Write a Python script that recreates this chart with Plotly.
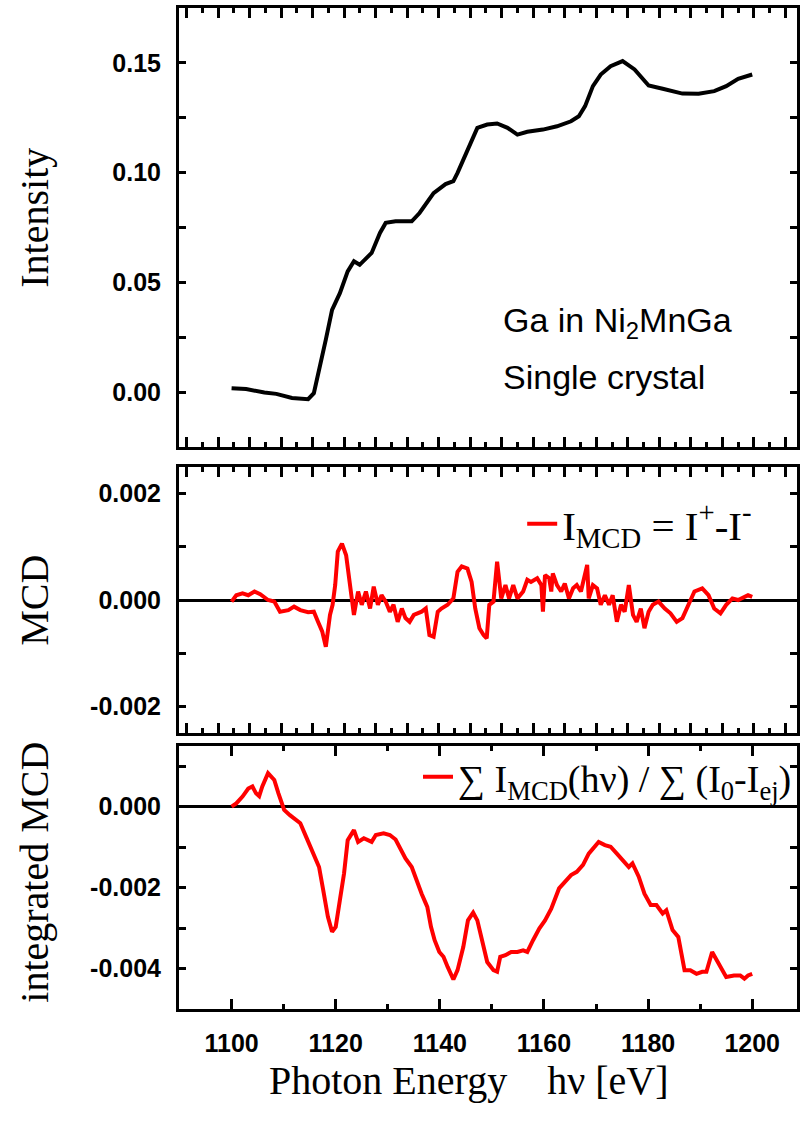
import plotly.graph_objects as go

# ---------------- data ----------------
int_e = [1100.0, 1102.8, 1106.3, 1108.6, 1111.6, 1114.7, 1115.8, 1117.0, 1118.1, 1119.3,
         1120.8, 1122.3, 1123.5, 1124.6, 1126.9, 1128.5, 1129.6, 1131.5, 1134.6, 1136.1,
         1138.8, 1141.1, 1142.6, 1143.4, 1145.3, 1147.2, 1149.1, 1151.0, 1153.0, 1154.9,
         1156.8, 1159.8, 1162.5, 1165.2, 1166.7, 1167.9, 1169.4, 1170.9, 1172.8, 1175.1,
         1177.4, 1179.0, 1180.1, 1182.8, 1186.6, 1189.7, 1192.7, 1195.0, 1197.3, 1200.0]
int_v = [0.0018, 0.0014, -0.0002, -0.0008, -0.0027, -0.0032, -0.0005, 0.0117, 0.0239, 0.0375,
         0.0451, 0.0550, 0.0596, 0.0580, 0.0634, 0.0725, 0.0771, 0.0778, 0.0778, 0.0816,
         0.0907, 0.0948, 0.0961, 0.0999, 0.1105, 0.1204, 0.1219, 0.1224, 0.1204, 0.1173,
         0.1186, 0.1196, 0.1211, 0.1234, 0.1257, 0.1303, 0.1394, 0.1447, 0.1485, 0.1508,
         0.1470, 0.1424, 0.1397, 0.1382, 0.1360, 0.1359, 0.1371, 0.1394, 0.1427, 0.1447]

mcd_e = [1100.0, 1100.9, 1102.1, 1103.2, 1104.4, 1105.5, 1107.0, 1108.2, 1109.3, 1110.9,
         1112.0, 1113.2, 1114.7, 1115.8, 1116.6, 1117.4, 1118.1, 1118.9, 1119.4, 1119.9,
         1120.4, 1121.2, 1122.0, 1122.7, 1123.5, 1124.3, 1125.0, 1125.8, 1126.6, 1127.3,
         1128.1, 1128.8, 1129.6, 1130.4, 1131.1, 1131.9, 1132.7, 1133.4, 1134.2, 1135.0,
         1135.7, 1136.5, 1137.3, 1138.0, 1138.8, 1139.6, 1140.3, 1141.5, 1142.6, 1143.4,
         1144.2, 1145.3, 1146.1, 1146.8, 1147.6, 1148.4, 1149.0, 1149.5, 1150.3, 1151.0,
         1151.8, 1152.6, 1153.3, 1154.1, 1154.9, 1156.0, 1156.8, 1157.5, 1158.7, 1159.5,
         1159.8, 1160.2, 1161.0, 1161.4, 1161.7, 1162.5, 1163.3, 1164.0, 1164.8, 1165.6,
         1166.3, 1167.1, 1168.3, 1168.6, 1169.4, 1170.2, 1170.9, 1171.7, 1172.5, 1173.2,
         1174.0, 1174.8, 1175.5, 1176.3, 1177.1, 1177.8, 1178.6, 1179.3, 1180.1, 1180.9,
         1182.0, 1183.2, 1184.3, 1185.5, 1186.6, 1187.8, 1188.9, 1190.4, 1191.6, 1192.7,
         1193.9, 1195.0, 1196.2, 1197.3, 1198.5, 1199.2, 1200.0]
mcd_v = [-0.00003, 0.00009, 0.000125, 0.00009, 0.00016, 0.00011, 0.0, -0.00003, -0.00022, -0.00019,
         -0.000125, -0.00019, -0.00023, -0.00022, -0.00041, -0.00059, -0.00088, -0.00028, -0.00009, 0.00028,
         0.00091, 0.00106, 0.00084, 0.00028, -0.00028, 0.00016, -0.00009, 0.00016, -0.00016, 0.00025,
         -0.00009, 0.00009, -0.00003, -0.00022, -0.00009, -0.00041, -0.00016, -0.00034, -0.00041, -0.00028,
         -0.00025, -0.00022, -0.00016, -0.00066, -0.00069, -0.00022, -0.00016, -0.00009, 0.00003, 0.00053,
         0.00063, 0.00059, 0.00034, -0.00016, -0.00053, -0.00066, -0.00072, -0.00009, -0.00003, 0.00072,
         0.00003, 0.00028, 0.00003, 0.00028, 0.00003, 0.00016, 0.00038, 0.00034, 0.00041, 0.00028,
         -0.00022, 0.00047, 0.00041, 0.00016, 0.00050, 0.00028, 0.00016, 0.00031, 0.00003, 0.00022,
         0.00028, 0.00016, 0.00066, 0.00003, 0.00028, 0.00022, -0.00009, 0.00009, -0.00009, 0.00009,
         -0.00041, -0.00009, -0.00022, 0.00028, -0.00028, -0.00041, -0.00016, -0.00053, -0.00022, -0.00009,
         -0.00003, -0.00016, -0.00025, -0.00041, -0.00034, -0.00009, 0.00016, 0.00022, 0.00009, -0.00016,
         -0.00025, -0.00009, 0.00003, 0.0, 0.00006, 0.00009, 0.00006]

imcd_e = [1100.0, 1100.9, 1102.1, 1103.2, 1104.0, 1104.7, 1105.3, 1105.9, 1107.0, 1108.2,
          1109.0, 1110.1, 1111.2, 1113.2, 1114.3, 1115.5, 1116.8, 1117.6, 1118.5, 1119.3,
          1120.0, 1120.8, 1121.6, 1122.3, 1123.5, 1124.3, 1125.4, 1126.9, 1127.7, 1129.2,
          1130.4, 1131.5, 1132.3, 1133.4, 1134.6, 1135.5, 1136.5, 1137.3, 1137.6, 1138.3,
          1139.0, 1139.9, 1140.7, 1141.5, 1142.6, 1143.4, 1144.5, 1145.4, 1146.4, 1147.2,
          1148.0, 1149.1, 1150.3, 1151.0, 1151.6, 1152.6, 1153.7, 1154.9, 1156.0, 1156.8,
          1157.9, 1159.1, 1160.2, 1161.4, 1162.9, 1164.0, 1165.2, 1166.3, 1167.5, 1168.6,
          1169.8, 1170.5, 1171.7, 1172.8, 1174.0, 1175.1, 1176.3, 1177.0, 1178.2, 1179.3,
          1180.5, 1181.6, 1182.8, 1183.5, 1184.7, 1185.8, 1187.0, 1188.1, 1189.3, 1190.4,
          1191.2, 1192.3, 1193.5, 1195.0, 1196.5, 1197.7, 1198.5, 1199.2, 1200.0]
imcd_v = [0.0, 0.00008, 0.00025, 0.00045, 0.00050, 0.00033, 0.00026, 0.00050, 0.00083, 0.00066,
          0.00033, -0.00008, -0.00021, -0.00041, -0.00074, -0.00111, -0.00149, -0.00206, -0.00272, -0.00309,
          -0.00297, -0.00231, -0.00165, -0.00083, -0.00058, -0.00087, -0.00078, -0.00087, -0.00070, -0.00066,
          -0.00070, -0.00081, -0.00099, -0.00128, -0.00149, -0.00182, -0.00215, -0.00239, -0.00248, -0.00297,
          -0.00330, -0.00359, -0.00371, -0.00396, -0.00427, -0.00404, -0.00347, -0.00281, -0.00262, -0.00281,
          -0.00322, -0.00384, -0.00404, -0.00408, -0.00371, -0.00367, -0.00359, -0.00359, -0.00355, -0.00359,
          -0.00330, -0.00301, -0.00281, -0.00252, -0.00202, -0.00186, -0.00169, -0.00161, -0.00144, -0.00116,
          -0.00099, -0.00087, -0.00095, -0.00099, -0.00116, -0.00132, -0.00149, -0.00140, -0.00173, -0.00215,
          -0.00243, -0.00243, -0.00264, -0.00256, -0.00305, -0.00322, -0.00404, -0.00404, -0.00413, -0.00408,
          -0.00408, -0.00359, -0.00388, -0.00421, -0.00417, -0.00417, -0.00425, -0.00417, -0.00413]

x_tickvals = [1100, 1120, 1140, 1160, 1180, 1200]
x_ticktext = ["1100", "1120", "1140", "1160", "1180", "1200"]
y1_tickvals = [0.0, 0.05, 0.10, 0.15]
y1_ticktext = ["0.00", "0.05", "0.10", "0.15"]
y2_tickvals = [-0.002, 0.0, 0.002]
y2_ticktext = ["-0.002", "0.000", "0.002"]
y3_tickvals = [-0.004, -0.002, 0.0]
y3_ticktext = ["-0.004", "-0.002", "0.000"]

# ---------------- figure ----------------
W, H = 800, 1124
ML = 179
PW = W - ML
RED = "#ff0000"
serif = "Liberation Serif"
sans = "Liberation Sans"


def px_x(px):
    return (px - ML) / PW


def px_y(py):
    return 1 - py / H


fig = go.Figure()
fig.add_trace(go.Scatter(x=int_e, y=int_v, mode="lines", line=dict(color="black", width=4),
                         xaxis="x", yaxis="y", showlegend=False))
fig.add_trace(go.Scatter(x=mcd_e, y=mcd_v, mode="lines", line=dict(color=RED, width=4),
                         xaxis="x2", yaxis="y2", legend="legend",
                         name="I<sub>MCD</sub> = I<sup>+</sup>-I<sup>-</sup>"))
fig.add_trace(go.Scatter(x=imcd_e, y=imcd_v, mode="lines", line=dict(color=RED, width=4),
                         xaxis="x3", yaxis="y3", legend="legend2",
                         name="\u2211 I<sub>MCD</sub>(h\u03bd) / \u2211 (I<sub>0</sub>-I<sub>ej</sub>)"))

xr = [1089.9, 1208.6]
tickfont = dict(family=sans, size=25, color="black", weight="bold")
common_axis = dict(showline=True, linecolor="black", linewidth=3, mirror="ticks",
                   ticks="inside", tickcolor="black", tickwidth=3, showgrid=False)

top_x = dict(common_axis, range=xr, tickmode="linear", tick0=1091.34, dtick=6.055, ticklen=10,
             showticklabels=False,
             minor=dict(ticks="inside", tick0=1091.34, dtick=3.0275, ticklen=5,
                        tickwidth=3, tickcolor="black", showgrid=False))


def yax(domain, rng, tv, tt, minor_dtick, zero):
    return dict(common_axis, domain=domain, range=rng, tickmode="array", tickvals=tv, ticktext=tt,
                ticklen=7, tickfont=tickfont, ticklabelstandoff=10,
                zeroline=zero, zerolinecolor="black", zerolinewidth=3,
                minor=dict(ticks="inside", dtick=minor_dtick, tick0=0, ticklen=7, tickwidth=3,
                           tickcolor="black", showgrid=False))


d_top = [px_y(447), px_y(8)]
d_mid = [px_y(733), px_y(467)]
d_bot = [px_y(1009), px_y(746)]

fig.update_layout(
    width=W, height=H,
    margin=dict(l=ML, r=0, t=0, b=0),
    paper_bgcolor="white", plot_bgcolor="white",
    xaxis=dict(top_x, anchor="y"),
    xaxis2=dict(top_x, anchor="y2", matches="x"),
    xaxis3=dict(common_axis, anchor="y3", range=xr, tickmode="array", tickvals=x_tickvals,
                ticktext=x_ticktext, ticklen=10, tickfont=tickfont, ticklabelstandoff=10,
                minor=dict(ticks="inside", dtick=10, tick0=1100, ticklen=5, tickwidth=3,
                           tickcolor="black", showgrid=False)),
    yaxis=yax(d_top, [-0.025, 0.175], y1_tickvals, y1_ticktext, 0.025, False),
    yaxis2=yax(d_mid, [-0.0025, 0.0025], y2_tickvals, y2_ticktext, 0.001, True),
    yaxis3=yax(d_bot, [-0.005, 0.0015], y3_tickvals, y3_ticktext, 0.001, True),
    legend=dict(x=px_x(760), y=px_y(524), xanchor="right", yanchor="middle",
                bgcolor="rgba(0,0,0,0)", font=dict(family=serif, size=41, color="black")),
    legend2=dict(x=px_x(800), y=px_y(777), xanchor="right", yanchor="middle",
                 bgcolor="rgba(0,0,0,0)", font=dict(family=serif, size=38, color="black")),
    showlegend=True,
)

ann_font_serif = dict(family=serif, size=40, color="black")
for txt, cy in [("Intensity", 218), ("MCD", 600), ("integrated MCD", 872)]:
    fig.add_annotation(text=txt, x=px_x(34), y=px_y(cy), xref="paper", yref="paper",
                       xanchor="center", yanchor="middle",
                       textangle=-90, showarrow=False, font=ann_font_serif)
fig.add_annotation(text="Photon Energy\u00a0\u00a0\u00a0\u00a0h\u03bd [eV]", x=px_x(470), y=px_y(1080),
                   xref="paper", yref="paper", xanchor="center", yanchor="middle", showarrow=False,
                   font=dict(family=serif, size=40, color="black"))
fig.add_annotation(text="Ga in Ni<sub>2</sub>MnGa", x=px_x(503), y=px_y(322), xref="paper", yref="paper",
                   xanchor="left", yanchor="middle", showarrow=False,
                   font=dict(family=sans, size=34, color="black"))
fig.add_annotation(text="Single crystal", x=px_x(503), y=px_y(377), xref="paper", yref="paper",
                   xanchor="left", yanchor="middle", showarrow=False,
                   font=dict(family=sans, size=34, color="black"))

fig.write_html("out.html")
